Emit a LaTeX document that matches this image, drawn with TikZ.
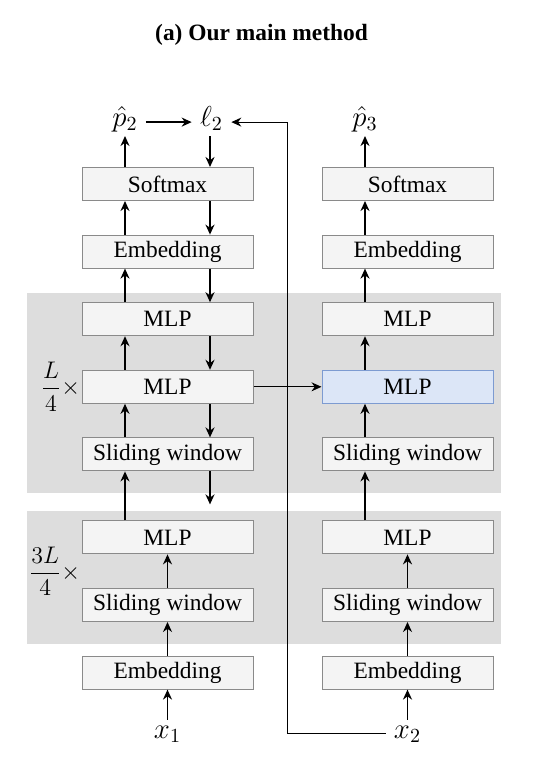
\documentclass[tikz,border=0pt]{standalone}
\usepackage{fontspec}
\setmainfont{Liberation Serif}
\usepackage{xcolor}
\usetikzlibrary{positioning, arrows.meta, calc, backgrounds}
\definecolor{boxfill}{HTML}{F4F4F4}
\definecolor{boxline}{HTML}{8A8A8A}
\definecolor{band}{HTML}{DDDDDD}
\definecolor{hlfill}{HTML}{DCE6F7}
\definecolor{hlline}{HTML}{7D9BD1}

\begin{document}
\begin{tikzpicture}[
  every node/.style={font=\fontsize{11.7}{14}\selectfont},
  block/.style={
    draw=boxline, fill=boxfill, line width=0.5pt,
    minimum width=85.5pt, minimum height=16.5pt, inner sep=0pt
  },
  hl/.style={block, draw=hlline, fill=hlfill},
  var/.style={font=\fontsize{14.4}{17}\selectfont, inner sep=1pt, text height=8pt, text depth=3.5pt},
  count/.style={font=\fontsize{12}{14}\selectfont, inner sep=1pt},
  arrow/.style={-{Stealth[length=5pt, width=4.5pt]}, line width=0.9pt},
  thinarrow/.style={-{Stealth[length=5pt, width=4.5pt]}, line width=0.6pt},
  node distance=16.8pt
]
  \useasboundingbox (0,0) rectangle (275.5pt,-380.5pt);
  \node[font=\fontsize{11.7}{14}\selectfont\bfseries] (title) at (130.75pt,-17.5pt) {(a) Our main method};

  % left column
  \node[block] (smL) at (83.75pt,-92pt) {Softmax};
  \node[block, below=of smL] (embL) {Embedding};
  \node[block, below=of embL] (mlpLa) {MLP};
  \node[block, below=of mlpLa] (mlpLb) {MLP};
  \node[block, below=of mlpLb] (swLa) {Sliding window};
  \node[block, below=24.5pt of swLa] (mlpLc) {MLP};
  \node[block, below=of mlpLc] (swLb) {Sliding window};
  \node[block, below=of swLb] (embLb) {Embedding};

  % right column
  \node[block, right=34pt of smL] (smR) {Softmax};
  \node[block, below=of smR] (embR) {Embedding};
  \node[block, below=of embR] (mlpRa) {MLP};
  \node[hl, below=of mlpRa] (mlpRb) {MLP};
  \node[block, below=of mlpRb] (swRa) {Sliding window};
  \node[block, below=24.5pt of swRa] (mlpRc) {MLP};
  \node[block, below=of mlpRc] (swRb) {Sliding window};
  \node[block, below=of swRb] (embRb) {Embedding};

  % inputs and outputs
  \node[var, above=15.5pt of smL, xshift=-21.25pt] (p2) {$\hat{p}_2$};
  \node[var, above=15.5pt of smL, xshift=22pt] (l2) {$\ell_2$};
  \node[var, above=15.5pt of smR, xshift=-21.25pt] (p3) {$\hat{p}_3$};
  \node[var, below=15pt of embLb] (x1) {$x_1$};
  \node[var, below=15pt of embRb] (x2) {$x_2$};

  % repeat counts
  \node[count, left=-0.5pt of mlpLb] (nTop) {$\displaystyle\frac{L}{4}\times$};
  \node[count, anchor=east] (nBot) at ($(mlpLc.west)!0.5!(swLb.west)+(0.5pt,0)$) {$\displaystyle\frac{3L}{4}\times$};

  \coordinate (mid) at ($(mlpLb.east)!0.5!(mlpRb.west)$);
  \coordinate (gapend) at ($([xshift=21.25pt]swLa.south)+(0,-16.5pt)$);

  \begin{scope}[on background layer]
    \fill[band] ($(mlpLa.north west)+(-27.5pt,4.5pt)$) rectangle ($(swRa.south east)+(3.5pt,-11pt)$);
    \fill[band] ($(mlpLc.north west)+(-27.5pt,4.5pt)$) rectangle ($(swRb.south east)+(3.5pt,-11pt)$);
  \end{scope}

  % left column, forward
  \draw[arrow] (x1) -- (embLb);
  \draw[arrow] (embLb) -- (swLb);
  \draw[arrow] (swLb) -- (mlpLc);
  \draw[arrow] ([xshift=-21.25pt]mlpLc.north) -- ([xshift=-21.25pt]swLa.south);
  \draw[arrow] ([xshift=-21.25pt]swLa.north) -- ([xshift=-21.25pt]mlpLb.south);
  \draw[arrow] ([xshift=-21.25pt]mlpLb.north) -- ([xshift=-21.25pt]mlpLa.south);
  \draw[arrow] ([xshift=-21.25pt]mlpLa.north) -- ([xshift=-21.25pt]embL.south);
  \draw[arrow] ([xshift=-21.25pt]embL.north) -- ([xshift=-21.25pt]smL.south);
  \draw[arrow] ([xshift=-21.25pt]smL.north) -- (p2);
  \draw[arrow] ([xshift=3pt]p2.east) -- ([xshift=-3pt]l2.west);

  % left column, backward
  \draw[arrow] ([xshift=-0.75pt]l2.south) -- ([xshift=21.25pt]smL.north);
  \draw[arrow] ([xshift=21.25pt]smL.south) -- ([xshift=21.25pt]embL.north);
  \draw[arrow] ([xshift=21.25pt]embL.south) -- ([xshift=21.25pt]mlpLa.north);
  \draw[arrow] ([xshift=21.25pt]mlpLa.south) -- ([xshift=21.25pt]mlpLb.north);
  \draw[arrow] ([xshift=21.25pt]mlpLb.south) -- ([xshift=21.25pt]swLa.north);
  \draw[arrow] ([xshift=21.25pt]swLa.south) -- (gapend);

  % right column
  \draw[arrow] (x2) -- (embRb);
  \draw[arrow] (embRb) -- (swRb);
  \draw[arrow] (swRb) -- (mlpRc);
  \draw[arrow] ([xshift=-21.25pt]mlpRc.north) -- ([xshift=-21.25pt]swRa.south);
  \draw[arrow] ([xshift=-21.25pt]swRa.north) -- ([xshift=-21.25pt]mlpRb.south);
  \draw[arrow] ([xshift=-21.25pt]mlpRb.north) -- ([xshift=-21.25pt]mlpRa.south);
  \draw[arrow] ([xshift=-21.25pt]mlpRa.north) -- ([xshift=-21.25pt]embR.south);
  \draw[arrow] ([xshift=-21.25pt]embR.north) -- ([xshift=-21.25pt]smR.south);
  \draw[arrow] ([xshift=-21.25pt]smR.north) -- (p3);

  % cross links
  \draw[thinarrow] (mlpLb) -- (mlpRb);
  \draw[thinarrow] ([xshift=-3pt]x2.west) -- (x2.west -| mid) |- ([xshift=3pt]l2.east);
\end{tikzpicture}
\end{document}
